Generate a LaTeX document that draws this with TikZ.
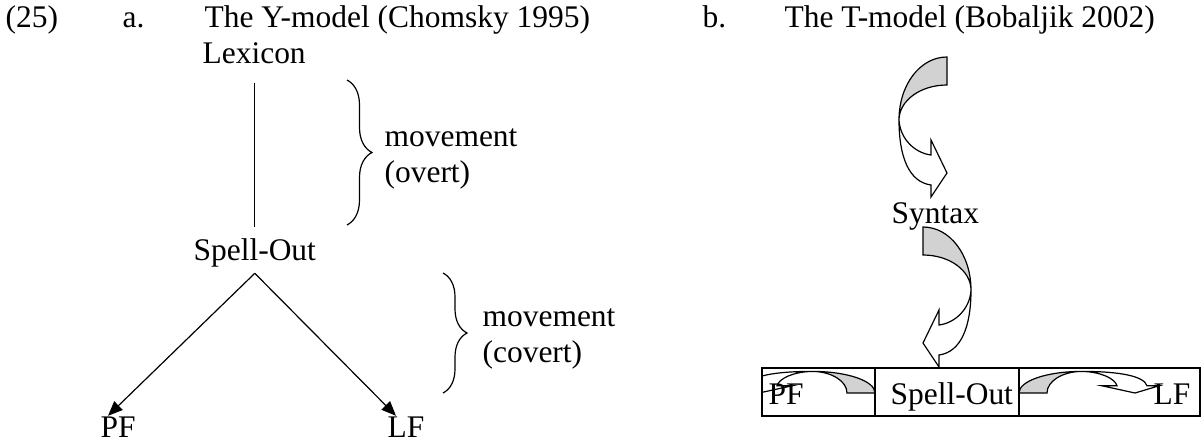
\documentclass[tikz,border=0pt]{standalone}
\usepackage{fontspec}
\setmainfont{Liberation Serif}
\usetikzlibrary{arrows.meta,decorations.pathreplacing}

\tikzset{
  txt/.style={inner sep=0pt, anchor=base west, font=\fontsize{23.6}{28}\selectfont},
  curly/.style={decorate, decoration={brace, amplitude=#1}},
  back/.style={fill=gray!35},
}

% twisted block arrow, tail at the origin, bulging to the left
\newcommand{\twistarrow}{%
  \draw[back] (0,0) .. controls (-27,0) and (-48,28) .. (-48,63)
    .. controls (-48,44) and (-27,28) .. (0,28) -- cycle;
  \draw[fill=white] (-48,63) .. controls (-48,100) and (-38,125) .. (-16,128)
    -- (-16,140) -- (0,116) -- (-16,83) -- (-16,98)
    .. controls (-32,96) and (-47,82) .. (-48,63) -- cycle;
}

\begin{document}
\begin{tikzpicture}[x=0.75pt, y=-0.75pt, line width=0.9pt]
  \useasboundingbox (0,0) rectangle (1203,443);

  \node[txt] (num) at (5,27) {(25)};
  \node[txt] (itemA) at (122,27) {a.};
  \node[txt] (titleA) at (204,27) {The Y-model (Chomsky 1995)};
  \node[txt] (itemB) at (702,27) {b.};
  \node[txt] (titleB) at (784,27) {The T-model (Bobaljik 2002)};

  % a. Y-model
  \node[txt] (lexicon) at (202,63) {Lexicon};
  \node[txt] (spellA) at (193,260) {Spell-Out};
  \node[txt] (pfA) at (100,437) {PF};
  \node[txt] (lfA) at (387,437) {LF};
  \draw[shorten <=14pt, shorten >=8pt] (lexicon.south) -- (lexicon.south |- spellA.north);
  \draw[-{Triangle[length=11pt,width=9pt]}] ([yshift=-4.5pt]spellA.south) -- ([xshift=6pt]pfA.north west);
  \draw[-{Triangle[length=11pt,width=9pt]}] ([yshift=-4.5pt]spellA.south) -- ([xshift=6.75pt]lfA.north west);

  \draw[curly=18.75pt] (347,80) -- (347,225);
  \node[txt] (movA) at (384,146) {movement};
  \node[txt] (overt) at (384,182) {(overt)};
  \draw[curly=18pt] (443,273) -- (443,393);
  \node[txt] (movB) at (482,326) {movement};
  \node[txt] (covert) at (482,362) {(covert)};

  % b. T-model
  \begin{scope}[shift={(947,57)}]
    \twistarrow
  \end{scope}
  \node[txt] (syntax) at (891,223) {Syntax};
  \begin{scope}[shift={(923,227)}, xscale=-1]
    \twistarrow
  \end{scope}

  \begin{scope}
    \clip (762,368) rectangle (875,416);
    \begin{scope}[shift={(875,393)}, xscale=-1, yscale=-0.45, rotate=90]
      \twistarrow
    \end{scope}
  \end{scope}
  \begin{scope}[shift={(1019,393)}, yscale=-0.45, rotate=90]
    \twistarrow
  \end{scope}

  \draw (762,368) rectangle (1200,416);
  \draw (875,368) -- (875,416);
  \draw (1019,368) -- (1019,416);
  \node[txt] (pfB) at (768,404) {PF};
  \node[txt] (spellB) at (890,404) {Spell-Out};
  \node[txt] (lfB) at (1153,404) {LF};
\end{tikzpicture}
\end{document}
